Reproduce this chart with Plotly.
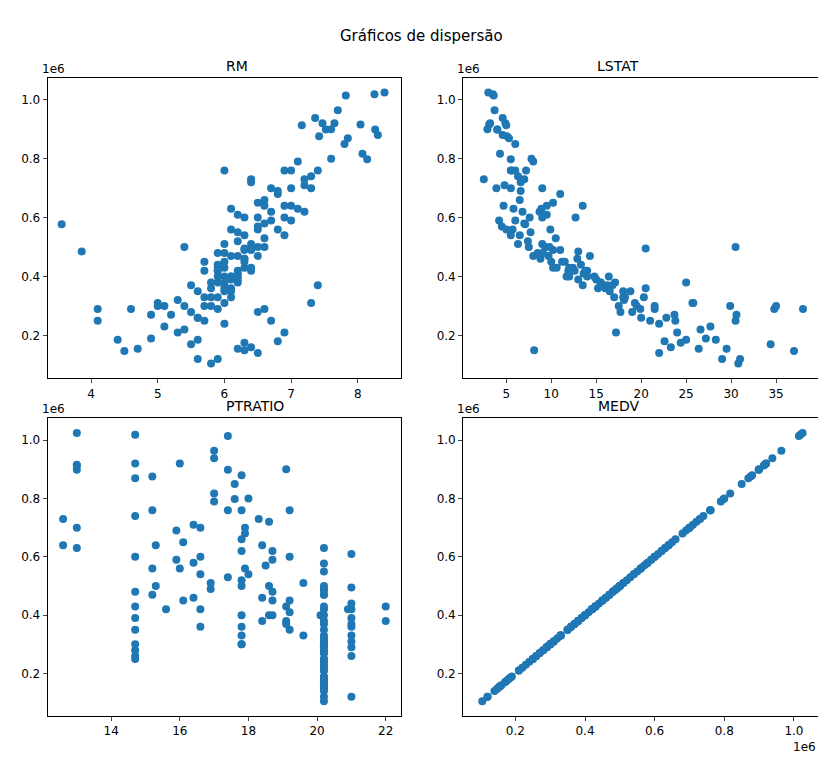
import plotly.graph_objects as go

RM = [8.40,8.25,7.82,8.04,7.47,7.52,8.26,7.42,8.30,8.07,7.65,7.60,7.85,7.36,8.14,7.16,7.70,7.80,
7.0,7.2,6.9,7.1,7.3,7.0,6.8,7.2,6.9,7.4,6.6,7.0,6.7,6.5,6.1,6.2,6.4,7.1,6.8,6.6,6.3,7.6,6.9,6.0,7.3,6.5,7.0,6.7,6.4,7.2,
6.0,6.1,5.9,6.2,6.3,6.0,5.9,6.1,6.2,5.8,6.4,6.2,6.0,6.3,6.5,6.1,5.7,6.4,6.6,6.5,6.3,6.0,5.9,6.2,6.1,5.8,6.4,6.0,6.3,5.9,6.2,6.0,5.7,5.6,5.5,6.1,6.7,6.6,6.5,6.8,6.9,6.4,6.3,6.2,6.5,6.0,6.1,5.9,5.8,6.0,5.6,6.2,5.9,6.3,5.7,6.6,
5.0,4.9,5.4,5.3,4.5,5.6,5.8,5.5,5.9,6.2,6.4,6.3,6.0,5.1,4.9,6.7,6.8,4.7,5.3,5.7,6.1,6.5,6.6,5.2,4.1,4.1,5.0,6.9,7.3,4.6,5.1,5.4,5.9,6.0,5.8,5.6,5.5,6.2,5.9,6.1,5.4,6.0,5.7,6.3,6.5,5.9,6.4,4.4,3.56,3.86,7.4,5.6,6.3]
LSTAT = [3.0,3.5,3.6,3.1,3.2,4.0,4.0,5.1,4.6,4.3,4.9,2.9,5.3,4.6,5.5,5.0,3.7,6.0,
5.5,7.0,4.7,5.8,6.3,7.2,6.6,4.8,9.0,6.0,6.5,9.5,8.7,7.6,8.9,9.5,6.6,8.0,11.0,13.5,12.7,7.8,5.6,5.5,9.0,10.2,4.2,3.9,2.5,6.8,
10.2,12.0,14.0,9.7,11.5,8.5,13.3,15.0,12.6,16.0,9.3,7.4,6.3,5.5,5.7,8.0,10.0,11.0,10.5,7.5,8.8,11.2,12.4,13.6,14.8,15.5,12.2,16.8,10.6,9.1,13.0,18.0,17.5,20.0,19.0,9.9,6.0,7.0,4.5,5.0,6.5,9.0,10.2,7.7,14.3,11.7,15.2,18.2,19.5,17.1,16.5,14.0,11.9,12.9,13.8,9.8,
29.9,30.6,26.6,24.0,37.0,28.3,30.8,34.4,31.0,26.4,23.3,24.4,22.0,27.7,27.2,21.0,22.6,29.5,18.1,20.3,18.8,17.7,19.9,23.7,34.8,30.5,25.8,17.2,25.7,38.0,35.0,30.5,21.5,19.3,17.0,22.8,16.2,15.5,16.4,18.0,21.5,20.5,23.8,8.1,22.0,25.0,12.0,25.0,7.1,13.0,13.5,29.0,20.5]
PTRATIO = [13.0,14.7,17.4,13.0,14.7,17.4,13.0,15.2,17.8,17.0,16.0,19.1,14.7,17.0,17.6,13.0,17.0,17.6,
13.0,12.6,12.6,13.0,14.7,15.2,15.9,16.4,16.6,17.4,17.8,18.4,18.7,19.2,20.2,21.0,18.6,17.0,17.9,15.3,14.7,18.0,19.2,17.8,16.6,16.1,18.7,17.9,18.3,17.8,
20.2,20.2,20.2,20.2,19.2,18.7,21.0,21.0,21.0,21.0,18.6,17.8,16.9,16.6,15.2,15.2,16.1,16.9,17.4,17.8,18.4,18.7,19.1,19.2,20.1,20.2,20.9,21.0,14.7,14.7,14.7,14.7,14.7,14.7,14.7,16.0,15.9,16.4,18.5,17.9,18.0,19.6,20.2,20.2,20.2,17.8,17.8,17.8,17.8,18.4,19.2,18.6,16.6,16.4,15.6,15.3,
20.2,20.2,20.2,20.2,20.2,20.2,20.2,20.2,20.2,20.2,20.2,20.2,20.2,20.2,20.2,20.2,20.2,20.2,20.2,20.2,20.2,20.2,20.2,20.2,20.2,20.2,20.2,20.2,20.2,20.2,20.2,20.2,21.0,21.0,21.0,21.0,19.1,19.1,18.7,19.6,17.8,16.6,14.7,20.2,20.2,22.0,22.0,20.2,20.2,20.2,20.2,21.0,21.0]
MEDV = [1024800,1018500,1014300,915600,919800,898800,898800,875700,880000,816900,920000,900000,869000,938000,798000,913500,964000,850000,
700000,730000,640000,630000,740000,760000,690000,710000,600000,760000,660000,640000,620000,600000,630000,610000,720000,790000,680000,640000,600000,800000,760000,760000,700000,650000,590000,700000,730000,620000,
430000,400000,420000,470000,450000,480000,440000,390000,420000,360000,500000,520000,510000,540000,560000,470000,450000,490000,530000,500000,460000,450000,430000,410000,400000,380000,420000,370000,430000,480000,390000,350000,300000,260000,280000,560000,590000,580000,570000,560000,540000,510000,490000,550000,470000,400000,360000,330000,300000,380000,350000,400000,420000,460000,420000,500000,
300000,270000,220000,210000,147000,185000,105000,170000,120000,155000,160000,175000,240000,230000,190000,250000,180000,155000,320000,330000,350000,280000,290000,270000,290000,250000,310000,210000,310000,290000,300000,500000,290000,310000,330000,260000,370000,380000,400000,330000,300000,360000,250000,150000,140000,380000,430000,185000,577500,485100,370000,120000,495000]

YT = [200000, 400000, 600000, 800000, 1000000]
YTT = ["0.2", "0.4", "0.6", "0.8", "1.0"]
C = "#1f77b4"
fig = go.Figure()
panels = [("RM", RM, "x", "y"), ("LSTAT", LSTAT, "x2", "y2"), ("PTRATIO", PTRATIO, "x3", "y3"), ("MEDV", MEDV, "x4", "y4")]
for name, xs, xa, ya in panels:
    fig.add_trace(go.Scatter(x=xs, y=MEDV, mode="markers", xaxis=xa, yaxis=ya,
                             marker=dict(color=C, size=8), showlegend=False))

xd = [[0.048, 0.476], [0.551, 0.981]]
yd = [[0.511, 0.908], [0.065, 0.458]]
ranges = [[3.35, 8.65], [0.2, 39.7], [12.15, 22.45], [50000, 1070000]]
ax = dict(showline=True, mirror=True, linecolor="black", ticks="outside", showgrid=False,
          zeroline=False, tickfont=dict(size=12, color="black"), ticklen=4)
lay = {}
for i in range(4):
    sx = "" if i == 0 else str(i + 1)
    lay["xaxis" + sx] = dict(ax, domain=xd[i % 2], range=ranges[i], anchor="y" + sx)
    lay["yaxis" + sx] = dict(ax, domain=yd[i // 2], range=[55000, 1075000], anchor="x" + sx,
                             tickvals=YT, ticktext=YTT)
lay["xaxis4"].update(tickvals=YT, ticktext=YTT)
lay["xaxis2"].update(tickvals=[5, 10, 15, 20, 25, 30, 35])
lay["xaxis3"].update(tickvals=[14, 16, 18, 20, 22])

ann = []
for i, (name, _, _, _) in enumerate(panels):
    xm = sum(xd[i % 2]) / 2
    ann.append(dict(text=name, x=xm, y=yd[i // 2][1], xref="paper", yref="paper",
                    yanchor="bottom", showarrow=False, font=dict(size=14), yshift=2))
    ann.append(dict(text="1e6", x=xd[i % 2][0], y=yd[i // 2][1], xref="paper", yref="paper",
                    xanchor="left", yanchor="bottom", showarrow=False, font=dict(size=12), xshift=-8))
ann.append(dict(text="1e6", x=xd[1][1], y=yd[1][0], xref="paper", yref="paper",
                xanchor="right", yanchor="top", showarrow=False, font=dict(size=12), yshift=-22))
ann.append(dict(text="Gráficos de dispersão", x=0.5, y=1 - 17 / 757, xref="paper", yref="paper",
                showarrow=False, font=dict(size=15)))

fig.update_layout(width=826, height=757, margin=dict(l=0, r=0, t=0, b=0),
                  paper_bgcolor="white", plot_bgcolor="white",
                  font=dict(family="DejaVu Sans", color="black"), annotations=ann, **lay)
fig.write_html("out.html")
